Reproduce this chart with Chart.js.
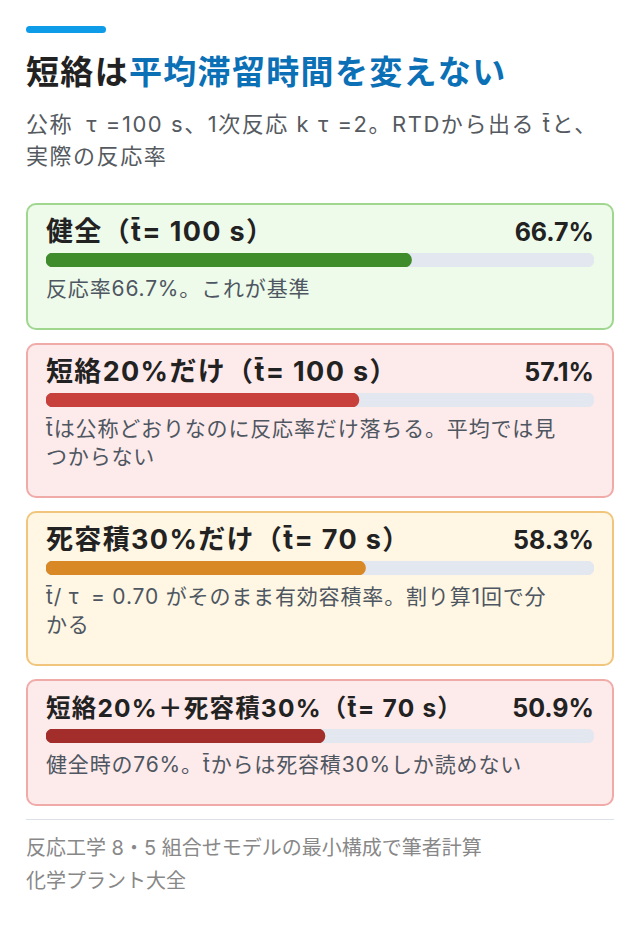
<!DOCTYPE html>
<html lang="ja">
<head>
<meta charset="utf-8">
<title>短絡は平均滞留時間を変えない</title>
<script src="https://cdn.jsdelivr.net/npm/chart.js@4.4.1/dist/chart.umd.min.js"></script>
<style>
  html, body { margin: 0; background: #fff; }
  body {
    width: 640px;
    padding: 26px 26px 0 26px;
    box-sizing: border-box;
    font-family: "Inter", "Noto Sans CJK JP", sans-serif;
    color: #222;
  }
  .accent { width: 80px; height: 7px; border-radius: 4px; background: #0e9be8; }
  h1 { margin: 17px 0 0 0; font-size: 33px; line-height: 44px; font-weight: 700; letter-spacing: 0.04em; color: #222; }
  h1 span { color: #0b70b5; }
  .sub { margin: 14px 0 0 0; font-size: 22px; line-height: 32px; letter-spacing: 0.07em; color: #555a60; }
  #cards { margin-top: 31px; }
  .card { border: 2px solid; border-radius: 10px; padding: 10px 18px 25px 18px; margin-bottom: 13px; }
  .head { display: flex; justify-content: space-between; align-items: baseline; line-height: 34px; font-weight: 700; color: #222; }
  .head .name { font-size: 27px; letter-spacing: 0.05em; }
  .head .pct { font-size: 25px; }
  .bar { height: 14px; margin-top: 4px; position: relative; }
  .note { margin-top: 8px; max-width: 516px; font-size: 21px; line-height: 28px; letter-spacing: 0.04em; color: #4d5661; }
  hr { border: 0; border-top: 1px solid #dde2ea; margin: 0; }
  .foot { margin-top: 12px; font-size: 20px; line-height: 33px; color: #888; }
</style>
</head>
<body>
<div class="accent"></div>
<h1>短絡は<span>平均滞留時間を変えない</span></h1>
<p class="sub">公称&thinsp; τ =100 s、1次反応 k τ =2。RTDから出る t̄と、実際の反応率</p>
<div id="cards"></div>
<hr>
<div class="foot">反応工学 8・5 組合せモデルの最小構成で筆者計算<br>化学プラント大全</div>

<script>
// data
const caseNames = ["健全", "短絡20%だけ", "死容積30%だけ", "短絡20%＋死容積30%"];
const meanTimes = [100, 100, 70, 70];          // t̄ [s]
const conversions = [66.7, 57.1, 58.3, 50.9];  // 反応率 [%]
const notes = [
  "反応率66.7%。これが基準",
  "t̄は公称どおりなのに反応率だけ落ちる。平均では見つからない",
  "t̄/ τ\u2009 = 0.70 がそのまま有効容積率。割り算1回で分かる",
  "健全時の76%。t̄からは死容積30%しか読めない"
];

// styles per card
const barColors = ["#3f8c2c", "#c8403b", "#d98826", "#a32d2a"];
const cardBg = ["#eefaea", "#fdeaea", "#fff6e4", "#fdeaea"];
const cardBorder = ["#9fd78e", "#f0aaa8", "#f1c67c", "#f0aaa8"];
const titleSize = ["27px", "27px", "27px", "24.5px"]; // long title is set smaller
const trackColor = "#e3e7ef";

const cards = document.getElementById("cards");

caseNames.forEach((name, i) => {
  const card = document.createElement("div");
  card.className = "card";
  card.style.background = cardBg[i];
  card.style.borderColor = cardBorder[i];
  card.innerHTML =
    `<div class="head"><span class="name" style="font-size:${titleSize[i]}">${name}（t̄= ${meanTimes[i]} s）</span>` +
    `<span class="pct">${conversions[i].toFixed(1)}%</span></div>` +
    `<div class="bar"><canvas></canvas></div>` +
    `<div class="note">${notes[i]}</div>`;
  cards.appendChild(card);

  const ctx = card.querySelector("canvas").getContext("2d");
  new Chart(ctx, {
    type: "bar",
    data: {
      labels: [name],
      datasets: [
        {
          data: [conversions[i]],
          backgroundColor: barColors[i],
          borderRadius: 7,
          borderSkipped: false,
          grouped: false,
          order: 0,
          barPercentage: 1,
          categoryPercentage: 1
        },
        {
          data: [100],
          backgroundColor: trackColor,
          borderRadius: 7,
          borderSkipped: false,
          grouped: false,
          order: 1,
          barPercentage: 1,
          categoryPercentage: 1
        }
      ]
    },
    options: {
      indexAxis: "y",
      responsive: true,
      maintainAspectRatio: false,
      animation: false,
      events: [],
      layout: { padding: 0 },
      plugins: { legend: { display: false }, tooltip: { enabled: false } },
      scales: {
        x: { display: false, min: 0, max: 100 },
        y: { display: false }
      }
    }
  });
});
</script>
</body>
</html>
